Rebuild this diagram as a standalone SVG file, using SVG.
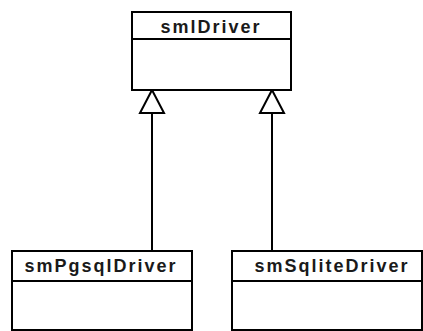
<svg xmlns="http://www.w3.org/2000/svg" width="423" height="331" viewBox="0 0 423 331">
  <style>
    .box { fill: #ffffff; stroke: #000000; stroke-width: 2; }
    .sep { stroke: #000000; stroke-width: 2; }
    .name { font-family: "Liberation Sans", Arial, sans-serif; font-weight: bold; font-size: 18px; letter-spacing: 2px; fill: #1a1a1a; text-anchor: middle; }
    .edge { stroke: #000000; stroke-width: 2; fill: none; }
    .head { fill: #ffffff; stroke: #000000; stroke-width: 2; stroke-linejoin: miter; }
  </style>
  <rect width="423" height="331" fill="#ffffff"/>

  <g id="connectors">
    <line class="edge" x1="152" y1="251" x2="152" y2="113"/>
    <polygon class="head" points="152,90 164,113 140,113"/>
    <line class="edge" x1="272" y1="251" x2="272" y2="113"/>
    <polygon class="head" points="272,90 284,113 260,113"/>
  </g>

  <g id="smlDriver">
    <rect class="box" x="132" y="12" width="159" height="78"/>
    <line class="sep" x1="132" y1="39" x2="291" y2="39"/>
    <text class="name" x="211" y="33">smlDriver</text>
  </g>

  <g id="smPgsqlDriver">
    <rect class="box" x="12" y="251" width="180" height="79"/>
    <line class="sep" x1="12" y1="281" x2="192" y2="281"/>
    <text class="name" x="101" y="272">smPgsqlDriver</text>
  </g>

  <g id="smSqliteDriver">
    <rect class="box" x="232" y="251" width="190" height="79"/>
    <line class="sep" x1="232" y1="281" x2="422" y2="281"/>
    <text class="name" x="332" y="272">smSqliteDriver</text>
  </g>
</svg>
